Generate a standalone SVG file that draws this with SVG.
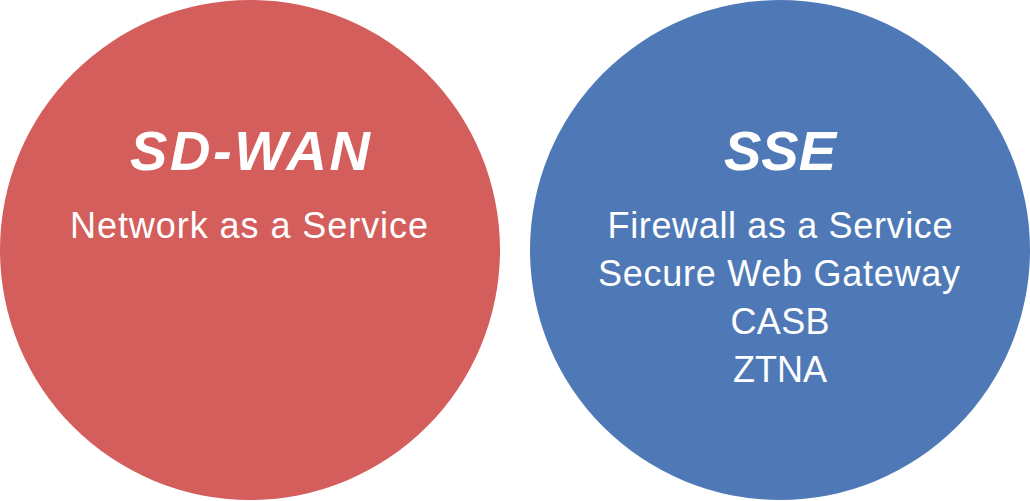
<svg xmlns="http://www.w3.org/2000/svg" width="1030" height="501" viewBox="0 0 1030 501">
<style>
.t{font-family:"Liberation Sans",Arial,sans-serif;font-weight:bold;font-style:italic;font-size:56px;fill:#fff;text-anchor:middle}
.s{font-family:"Liberation Sans",Arial,sans-serif;font-size:36px;fill:#fff;text-anchor:middle}
</style>
<rect width="1030" height="501" fill="#fff"/>
<g id="sdwan">
<circle cx="250" cy="250" r="250" fill="#D45E5C"/>
<text class="t" x="250" y="170" textLength="240" lengthAdjust="spacing">SD-WAN</text>
<text class="s" x="249" y="238" textLength="358" lengthAdjust="spacing">Network as a Service</text>
</g>
<g id="sse">
<circle cx="780" cy="250" r="250" fill="#4E79B6"/>
<text class="t" x="780" y="170" textLength="112" lengthAdjust="spacing">SSE</text>
<text class="s" x="780" y="238" textLength="345" lengthAdjust="spacing">Firewall as a Service</text>
<text class="s" x="779" y="286" textLength="362" lengthAdjust="spacing">Secure Web Gateway</text>
<text class="s" x="780" y="334" textLength="99" lengthAdjust="spacing">CASB</text>
<text class="s" x="780" y="382" textLength="94" lengthAdjust="spacing">ZTNA</text>
</g>
<g id="connectors"/>
</svg>
